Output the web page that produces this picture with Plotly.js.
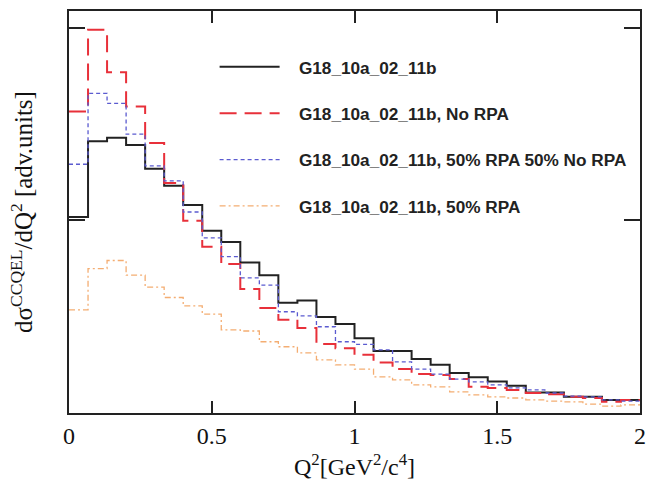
<!DOCTYPE html>
<html>
<head>
<meta charset="utf-8">
<script src="https://cdn.plot.ly/plotly-3.0.1.min.js"></script>
<style>html,body{margin:0;padding:0;background:#fff;}#chart{width:650px;height:490px;}</style>
</head>
<body>
<div id="chart"></div>
<script>
// Q^2 bin edges (GeV^2/c^4), 30 bins over [0, 2]
const binEdges = [0, 0.0667, 0.1333, 0.2, 0.2667, 0.3333, 0.4, 0.4667, 0.5333, 0.6, 0.6667,
  0.7333, 0.8, 0.8667, 0.9333, 1.0, 1.0667, 1.1333, 1.2, 1.2667, 1.3333,
  1.4, 1.4667, 1.5333, 1.6, 1.6667, 1.7333, 1.8, 1.8667, 1.9333, 2.0];

const seriesNames = [
  "G18_10a_02_11b",
  "G18_10a_02_11b, No RPA",
  "G18_10a_02_11b, 50% RPA 50% No RPA",
  "G18_10a_02_11b, 50% RPA"
];

// bin contents (arbitrary units)
const nominal = [0.509, 0.706, 0.715, 0.696, 0.634, 0.590, 0.540, 0.473, 0.444, 0.391,
  0.358, 0.286, 0.292, 0.249, 0.231, 0.194, 0.161, 0.161, 0.140, 0.125,
  0.104, 0.093, 0.082, 0.071, 0.053, 0.053, 0.042, 0.042, 0.034, 0.034];
const noRPA = [0.783, 0.995, 0.885, 0.796, 0.701, 0.597, 0.499, 0.432, 0.387, 0.322,
  0.273, 0.242, 0.221, 0.179, 0.168, 0.151, 0.131, 0.114, 0.101, 0.099,
  0.088, 0.068, 0.065, 0.060, 0.052, 0.049, 0.042, 0.039, 0.029, 0.034];
const halfMix = [0.646, 0.830, 0.804, 0.724, 0.642, 0.603, 0.522, 0.455, 0.406, 0.351,
  0.332, 0.263, 0.252, 0.224, 0.185, 0.178, 0.164, 0.133, 0.114, 0.101,
  0.088, 0.081, 0.073, 0.065, 0.060, 0.052, 0.044, 0.042, 0.034, 0.031];
const halfRPA = [0.268, 0.375, 0.396, 0.358, 0.327, 0.300, 0.278, 0.257, 0.216, 0.213,
  0.185, 0.172, 0.156, 0.138, 0.125, 0.114, 0.094, 0.086, 0.073, 0.068,
  0.055, 0.047, 0.042, 0.039, 0.034, 0.031, 0.029, 0.023, 0.018, 0.021];

const xTickVals = [0, 0.5, 1, 1.5, 2];
const xTickText = ["0", "0.5", "1", "1.5", "2"];

const pad = "\u00a0\u00a0\u00a0";

function stepTrace(vals, name, line, group) {
  return {
    x: binEdges,
    y: vals.concat([vals[vals.length - 1]]),
    type: "scatter",
    mode: "lines",
    name: pad + name,
    legendgroup: group,
    line: Object.assign({shape: "hv"}, line),
    hoverinfo: "skip"
  };
}

const traces = [
  stepTrace(nominal, seriesNames[0], {color: "#222222", width: 2}, "g1"),
  stepTrace(noRPA, seriesNames[1], {color: "#e8303a", width: 2, dash: "17px,8px"}, "g2"),
  stepTrace(halfMix, seriesNames[2], {color: "#5b5bd0", width: 1.3, dash: "4px,3px"}, "g3"),
  stepTrace(halfRPA, seriesNames[3], {color: "#f4ad72", width: 1.3, dash: "6px,3px,2px,3px"}, "g4")
];

const serif = "Liberation Serif, Times New Roman, serif";

const layout = {
  width: 650,
  height: 490,
  margin: {l: 69, r: 10, t: 11, b: 77},
  paper_bgcolor: "#ffffff",
  plot_bgcolor: "#ffffff",
  showlegend: true,
  legend: {
    x: 0.255, y: 0.905, xanchor: "left", yanchor: "top",
    bgcolor: "rgba(0,0,0,0)",
    font: {family: "Liberation Sans, Arial, sans-serif", size: 17.2, color: "#222222", weight: "bold"},
    traceorder: "grouped",
    tracegroupgap: 21,
    itemwidth: 60
  },
  xaxis: {
    range: [0, 2],
    tickvals: xTickVals,
    ticktext: xTickText,
    ticks: "inside",
    ticklen: 12,
    tickwidth: 2,
    tickcolor: "#222",
    showline: true,
    linecolor: "#222",
    linewidth: 2,
    mirror: "allticks",
    showgrid: false,
    zeroline: false,
    tickfont: {family: serif, size: 24, color: "#111"},
    title: {text: "Q<sup>2</sup>[GeV<sup>2</sup>/c<sup>4</sup>]", font: {family: serif, size: 24, color: "#111"}, standoff: 10}
  },
  yaxis: {
    range: [0, 1.044],
    tickvals: [0.5, 1.0],
    showticklabels: false,
    ticks: "inside",
    ticklen: 16,
    tickwidth: 2,
    tickcolor: "#222",
    showline: true,
    linecolor: "#222",
    linewidth: 2,
    mirror: "allticks",
    showgrid: false,
    zeroline: false,
    title: {text: "dσ<sup>CCQEL</sup>/dQ<sup>2</sup> [adv.units]", font: {family: serif, size: 25, color: "#111"}, standoff: 27}
  }
};

Plotly.newPlot("chart", traces, layout, {displayModeBar: false, staticPlot: true});
</script>
</body>
</html>
